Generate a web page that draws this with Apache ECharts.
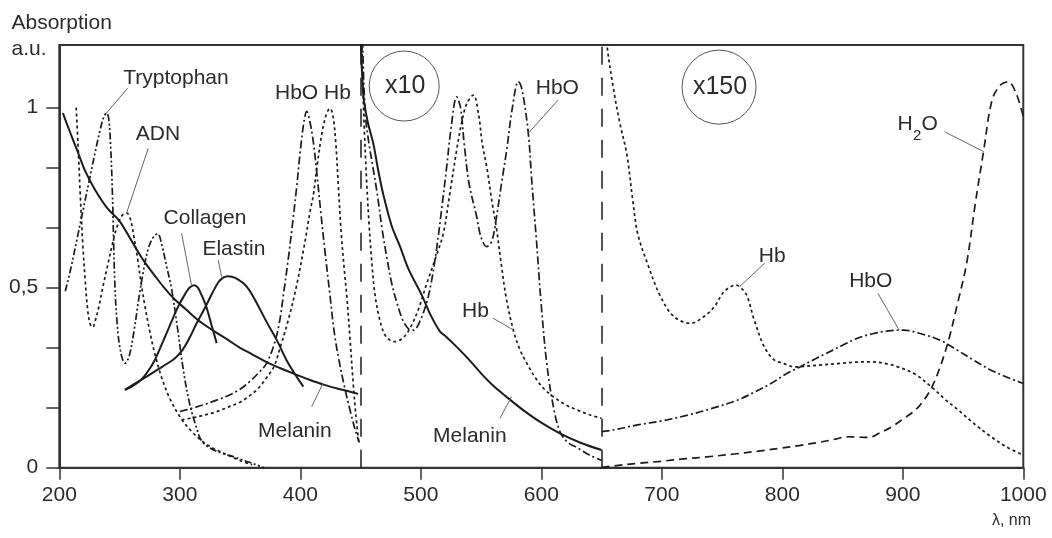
<!DOCTYPE html>
<html>
<head>
<meta charset="utf-8">
<script src="https://cdn.jsdelivr.net/npm/echarts@6/dist/echarts.min.js"></script>
<style>
  html, body { margin: 0; padding: 0; background: #fff; }
  #chart { width: 1052px; height: 538px; }
</style>
</head>
<body>
<div id="chart"></div>
<script>
// Absorption spectra of tissue chromophores, [wavelength nm, absorption a.u.]
// 200–450 nm: as measured; 450–650 nm: scaled x10; 650–1000 nm: scaled x150

const melaninUV = [[203,0.985],[208,0.94],[215,0.88],[222,0.82],[230,0.77],[240,0.72],[250,0.685],[260,0.63],[270,0.575],[280,0.53],[287,0.5],[295,0.47],[305,0.44],[315,0.41],[328,0.38],[340,0.355],[350,0.333],[360,0.315],[372,0.293],[383,0.277],[394,0.262],[407,0.245],[420,0.23],[434,0.217],[448,0.205]];
const tryptophan = [[205,0.49],[210,0.56],[215,0.64],[220,0.72],[225,0.8],[230,0.88],[234,0.94],[237,0.975],[239.3,0.985],[241,0.97],[242.5,0.9],[244,0.77],[246,0.52],[248,0.4],[251,0.32],[254.6,0.29],[258,0.31],[262,0.38],[266,0.47],[270,0.55],[274,0.61],[278,0.64],[281.7,0.65],[285,0.62],[289,0.56],[293,0.5],[298,0.39],[303,0.27],[308,0.18],[313,0.12],[318,0.075],[325,0.055],[335,0.04],[345,0.03],[355,0.018],[362,0.01],[370,0.0]];
const adn = [[214,1.0],[215.5,0.9],[217.5,0.75],[219.5,0.62],[221.5,0.52],[223.5,0.44],[225.5,0.4],[227.7,0.39],[230,0.41],[233,0.45],[236,0.5],[240,0.56],[244,0.62],[248,0.67],[252,0.7],[256,0.707],[259,0.69],[262,0.64],[265,0.58],[268,0.51],[271,0.45],[275,0.38],[279,0.32],[285,0.25],[292,0.19],[301,0.137],[310,0.1],[320,0.07],[330,0.05],[340,0.035],[350,0.02],[360,0.008]];
const collagen = [[254.5,0.216],[260,0.225],[268,0.245],[274,0.27],[279.4,0.3],[286,0.35],[293,0.405],[299,0.45],[304,0.48],[308,0.5],[312,0.507],[315,0.5],[318,0.48],[322,0.447],[326,0.4],[330.6,0.346]];
const elastin = [[254.5,0.216],[262,0.232],[272.5,0.253],[282,0.273],[290,0.29],[296,0.304],[302,0.326],[308,0.36],[314,0.401],[321,0.445],[327,0.485],[332,0.515],[336,0.528],[340,0.532],[346,0.527],[355.5,0.503],[365,0.45],[372,0.405],[380.4,0.355],[390,0.29],[402.5,0.225]];
const hboSoret = [[300,0.156],[310,0.165],[320,0.175],[330,0.187],[340,0.2],[350,0.218],[358,0.239],[365,0.262],[372,0.29],[379,0.35],[383,0.41],[386,0.48],[390,0.58],[394,0.69],[397,0.78],[400,0.88],[403,0.96],[405.3,0.99],[408,0.96],[411,0.9],[413.6,0.822],[417,0.71],[420.5,0.6],[424.6,0.48],[428,0.38],[432,0.3],[437,0.22],[442,0.15],[446,0.1],[449,0.07]];
const hbSoret = [[301.5,0.133],[310,0.138],[320,0.146],[330,0.155],[340,0.168],[350,0.182],[358,0.2],[365,0.22],[372,0.25],[378,0.28],[383,0.33],[390,0.41],[397,0.507],[404,0.63],[408,0.71],[410.8,0.757],[414,0.84],[418,0.93],[421.5,0.98],[424.6,0.998],[427,0.98],[429.5,0.9],[431.6,0.78],[434,0.65],[436.5,0.55],[438.5,0.48],[441,0.37],[444,0.23],[446,0.15],[448.5,0.07]];

const melaninX10 = [[450,1.22],[452.3,1.035],[456,0.96],[460.6,0.9],[465,0.82],[469,0.757],[476,0.67],[482.7,0.615],[490,0.55],[500.7,0.48],[508,0.425],[516,0.378],[521,0.364],[530,0.335],[540,0.3],[550,0.262],[560,0.228],[571,0.197],[585,0.16],[600,0.125],[615,0.096],[632,0.07],[650,0.049]];
const hboX10 = [[450,1.5],[452,1.15],[454,0.98],[457,0.9],[460,0.84],[464,0.757],[468,0.66],[472,0.58],[476,0.51],[480,0.46],[485,0.41],[490,0.385],[494,0.382],[499,0.405],[505,0.46],[509,0.52],[513,0.605],[517,0.71],[521.5,0.836],[525,0.94],[529.8,1.03],[533,1.0],[536,0.9],[540,0.79],[546.4,0.697],[550,0.64],[554.7,0.614],[559,0.63],[563,0.7],[567,0.79],[571.3,0.883],[576,1.0],[580.9,1.072],[584,1.05],[589.2,0.929],[592,0.8],[596,0.63],[600,0.45],[604.5,0.29],[610,0.17],[615.5,0.1],[622,0.07],[630,0.055],[640,0.035],[650,0.02]];
const hbX10 = [[450,1.45],[451.5,1.12],[453,0.95],[455,0.8],[457,0.68],[459.3,0.572],[462,0.48],[466,0.41],[470,0.37],[474,0.355],[478.6,0.35],[485,0.36],[491,0.387],[498,0.44],[505,0.512],[512,0.58],[518.7,0.651],[524,0.76],[529.8,0.883],[534,0.96],[538,1.01],[543.6,1.035],[548,0.98],[551,0.9],[554.7,0.836],[559,0.74],[563,0.66],[567,0.56],[571,0.47],[576.8,0.382],[582,0.33],[588,0.29],[595,0.25],[602,0.22],[610,0.197],[620,0.175],[630,0.16],[640,0.147],[650,0.137]];

const hbX150 = [[650,1.35],[654.5,1.174],[660,1.05],[665,0.96],[671,0.87],[676,0.74],[680,0.65],[688,0.568],[699,0.475],[710,0.42],[724,0.401],[735,0.42],[743.5,0.447],[752,0.49],[761.5,0.507],[767,0.495],[771,0.475],[776.7,0.41],[785,0.336],[793,0.3],[801.6,0.289],[810,0.28],[830,0.285],[846,0.289],[860,0.293],[873.6,0.294],[886,0.289],[896,0.28],[910,0.26],[923.5,0.225],[935,0.19],[946,0.16],[960,0.12],[973.3,0.086],[986,0.058],[1000,0.035]];
const hboX150 = [[650,0.1],[660,0.105],[680,0.119],[700,0.13],[721.6,0.146],[740,0.163],[763,0.188],[777,0.21],[790.6,0.234],[803,0.26],[814.7,0.28],[826,0.3],[836.8,0.318],[850,0.34],[861.8,0.359],[875,0.372],[888,0.38],[900.6,0.382],[915,0.372],[931,0.354],[945,0.327],[958.6,0.299],[972,0.273],[986,0.252],[1000,0.234]];
const waterX150 = [[650,0.0],[660,0.005],[680,0.012],[700,0.018],[720,0.025],[737,0.03],[760,0.038],[780,0.046],[798,0.054],[815,0.062],[830,0.07],[845,0.08],[853,0.086],[862,0.085],[871.8,0.084],[880,0.095],[891,0.114],[900,0.135],[910.4,0.16],[918,0.19],[924.3,0.225],[931,0.28],[938,0.354],[945,0.45],[953,0.568],[960,0.73],[967,0.878],[974,1.02],[981,1.063],[987.5,1.072],[994,1.04],[1000,0.975]];

// range boundaries where the scaling changes
const rangeBreaks = [450, 650];
const rangeFactors = ['x10', 'x150'];
const rangeFactorAt = [[486.2, 1.06], [747.5, 1.057]];

// axis ticks
const yTickValues = [0, 1/6, 2/6, 3/6, 4/6, 5/6, 1];
const yLabelValues = [0, 0.5, 1];

// curve labels: text position and leader line (data units)
const labels = [
  { text: 'Tryptophan', at: [296.8, 1.081], from: [256.7, 1.054], to: [238.9, 0.984] },
  { text: 'ADN',        at: [281.9, 0.925], from: [273.8, 0.887], to: [255.8, 0.707] },
  { text: 'Collagen',   at: [320.9, 0.694], from: [301.5, 0.651], to: [309.8, 0.505] },
  { text: 'Elastin',    at: [344.9, 0.606], from: [331.9, 0.577], to: [334.7, 0.530] },
  { text: 'HbO Hb',     at: [410.5, 1.041] },
  { text: 'Melanin',    at: [395.5, 0.102], from: [409.4, 0.169], to: [418.5, 0.232] },
  { text: 'Hb',         at: [545.3, 0.435], from: [560.0, 0.415], to: [576.6, 0.383] },
  { text: 'Melanin',    at: [540.7, 0.088], from: [565.6, 0.137], to: [575.3, 0.197] },
  { text: 'HbO',        at: [613.3, 1.055], from: [614.0, 1.021], to: [589.2, 0.929] },
  { text: 'Hb',         at: [791.6, 0.588], from: [785.4, 0.568], to: [764.6, 0.503] },
  { text: 'HbO',        at: [873.4, 0.519], from: [879.4, 0.484], to: [897.0, 0.382] }
];
const waterLabel = { at: [895.7, 0.953], from: [934.7, 0.933], to: [967.0, 0.878] };

const FONT = '"Liberation Sans", Arial, Helvetica, sans-serif';
const INK = '#1c1c1c';
const TEXT = '#2b2b2b';
const LEADER = '#666';

const DOTTED = [3, 3];
const DASH_DOT = [8, 3, 2, 3];
const DASH_DOT_DOT = [7, 2.5, 2, 2.5, 2, 2.5];
const DASHED = [8, 5];

function curve(name, data, dash, width) {
  return {
    type: 'line', name: name, data: data,
    smooth: 0.35, showSymbol: false, symbol: 'none', silent: true, clip: true,
    lineStyle: { color: INK, width: width || 1.7, type: dash || 'solid' },
    z: 3
  };
}

const chart = echarts.init(document.getElementById('chart'), null, { renderer: 'canvas' });

const melanin = curve('Melanin', melaninUV, 'solid', 2);
melanin.markLine = {
  silent: true, symbol: ['none', 'none'], label: { show: false },
  lineStyle: { color: INK, width: 1.5, type: [18, 13] },
  data: rangeBreaks.map(function (x) { return { xAxis: x }; })
};

chart.setOption({
  animation: false,
  backgroundColor: '#fff',
  textStyle: { fontFamily: FONT },
  grid: { left: 59.3, right: 28.7, top: 45, bottom: 70.3, show: true, borderColor: '#333', borderWidth: 2, backgroundColor: 'transparent' },
  xAxis: {
    type: 'value', min: 200, max: 1000, interval: 100,
    axisLine: { lineStyle: { color: '#333', width: 2 } },
    axisTick: { inside: false, length: 12, lineStyle: { color: '#333', width: 1.5 } },
    axisLabel: { color: TEXT, fontSize: 21, fontFamily: FONT, margin: 17, formatter: function (v) { return String(v); } },
    splitLine: { show: false }
  },
  yAxis: {
    type: 'value', min: 0, max: 1.174,
    axisLine: { show: true, lineStyle: { color: '#333', width: 2 } },
    axisTick: { show: true, inside: false, length: 13, customValues: yTickValues, lineStyle: { color: '#333', width: 1.5 } },
    axisLabel: {
      color: TEXT, fontSize: 21, fontFamily: FONT, margin: 21, customValues: yLabelValues,
      formatter: function (v) { return Math.abs(v - 0.5) < 1e-6 ? '0,5' : String(Math.round(v)); }
    },
    splitLine: { show: false }
  },
  series: [
    melanin,
    curve('Tryptophan', tryptophan, DASH_DOT_DOT, 1.7),
    curve('ADN', adn, DOTTED, 1.7),
    curve('Collagen', collagen, 'solid', 2),
    curve('Elastin', elastin, 'solid', 2),
    curve('HbO', hboSoret, DASH_DOT, 1.7),
    curve('Hb', hbSoret, DOTTED, 1.7),
    curve('Melanin x10', melaninX10, 'solid', 2),
    curve('HbO x10', hboX10, DASH_DOT, 1.7),
    curve('Hb x10', hbX10, DOTTED, 1.7),
    curve('Hb x150', hbX150, DOTTED, 1.7),
    curve('HbO x150', hboX150, DASH_DOT, 1.7),
    curve('H2O x150', waterX150, DASHED, 1.7)
  ]
});

// annotations placed through the grid's own coordinate mapping
function px(p) { return chart.convertToPixel({ gridIndex: 0 }, p); }

const graphics = [];
function addText(text, x, y, size, align) {
  graphics.push({
    type: 'text', x: x, y: y, silent: true, z: 10,
    style: { text: text, fill: TEXT, font: size + 'px ' + FONT, textAlign: align || 'center', textVerticalAlign: 'middle' }
  });
}
function addLeader(a, b) {
  const p = px(a), q = px(b);
  graphics.push({ type: 'line', silent: true, z: 9, shape: { x1: p[0], y1: p[1], x2: q[0], y2: q[1] }, style: { stroke: LEADER, lineWidth: 1 } });
}

labels.forEach(function (l) {
  const p = px(l.at);
  addText(l.text, p[0], p[1], 21);
  if (l.from) addLeader(l.from, l.to);
});

// H2O with subscript
(function () {
  const p = px(waterLabel.at);
  addText('H', p[0], p[1], 21, 'left');
  addText('2', p[0] + 15.5, p[1] + 11, 15, 'left');
  addText('O', p[0] + 24, p[1], 21, 'left');
  addLeader(waterLabel.from, waterLabel.to);
})();

// scale factor badges
rangeFactors.forEach(function (t, i) {
  const c = px(rangeFactorAt[i]);
  graphics.push({ type: 'circle', silent: true, z: 9, shape: { cx: c[0], cy: c[1], r: i === 0 ? 35 : 37 }, style: { fill: 'none', stroke: '#555', lineWidth: 1 } });
  addText(t, c[0] + 1, c[1], 25);
});

// axis titles
addText('Absorption', 11.5, 23.7, 21, 'left');
addText('a.u.', 11.5, 49.7, 21, 'left');
addText('\u03bb, nm', 1031, 521, 16, 'right');

chart.setOption({ graphic: graphics });
</script>
</body>
</html>
